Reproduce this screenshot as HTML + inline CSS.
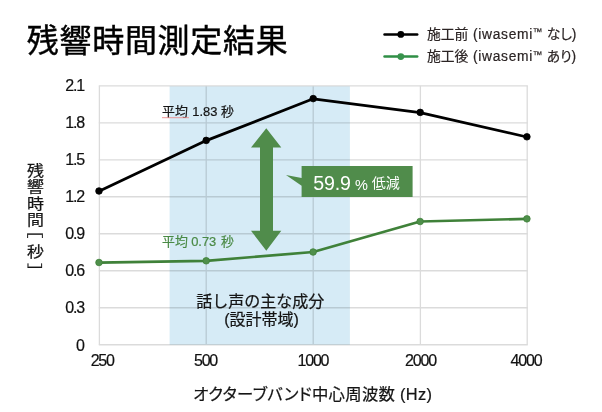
<!DOCTYPE html>
<html lang="ja">
<head>
<meta charset="utf-8">
<title>残響時間測定結果</title>
<style>
html,body{margin:0;padding:0;background:#fff;}
body{width:602px;height:412px;overflow:hidden;position:relative;font-family:"Liberation Sans","Noto Sans CJK JP",sans-serif;color:#1a1a1a;}
svg{position:absolute;left:0;top:0;display:block;}
text{font-family:"Liberation Sans","Noto Sans CJK JP",sans-serif;font-feature-settings:"palt";}
.title{font-size:32px;fill:#000;stroke:#000;stroke-width:0.45px;letter-spacing:0.7px;}
.ax{font-size:16px;fill:#111;stroke:#111;stroke-width:0.2px;letter-spacing:-1.2px;}
.leg{font-size:13.8px;fill:#2b2424;stroke:#2b2424;stroke-width:0.2px;}
.vt{font-size:17px;fill:#151515;stroke:#151515;stroke-width:0.25px;}
.b{fill:#151515;stroke:#151515;stroke-width:0.22px;}
</style>
</head>
<body>
<svg width="602" height="412" viewBox="0 0 602 412">
  <rect x="0" y="0" width="602" height="412" fill="#ffffff"/>
  <!-- design band -->
  <!-- grid -->
  <g stroke="#dbdbdb" stroke-width="1.3" fill="none">
    <line x1="98.8" y1="85.80" x2="527.8" y2="85.80"/>
    <line x1="98.8" y1="122.79" x2="527.8" y2="122.79"/>
    <line x1="98.8" y1="159.78" x2="527.8" y2="159.78"/>
    <line x1="98.8" y1="196.77" x2="527.8" y2="196.77"/>
    <line x1="98.8" y1="233.76" x2="527.8" y2="233.76"/>
    <line x1="98.8" y1="270.75" x2="527.8" y2="270.75"/>
    <line x1="98.8" y1="307.74" x2="527.8" y2="307.74"/>
    <line x1="98.8" y1="344.73" x2="527.8" y2="344.73"/>
    <line x1="99.4" y1="85.8" x2="99.4" y2="344.73"/>
    <line x1="206.2" y1="85.8" x2="206.2" y2="344.73"/>
    <line x1="313.2" y1="85.8" x2="313.2" y2="344.73"/>
    <line x1="420.4" y1="85.8" x2="420.4" y2="344.73"/>
    <line x1="527.2" y1="85.8" x2="527.2" y2="344.73"/>
  </g>
  <rect x="169.6" y="86.4" width="180.3" height="258.3" fill="#d6ebf6" style="mix-blend-mode:multiply"/>
  <!-- arrow -->
  <polygon fill="#508c4b" points="266.3,128.3 281.3,147.6 273,147.6 273,230.7 281.3,230.7 266.3,250.8 251,230.7 260,230.7 260,147.6 251,147.6"/>
  <!-- series -->
  <polyline fill="none" stroke="#000" stroke-width="2.8" stroke-linejoin="round" points="99.0,191.2 206.2,140.6 313.2,98.8 420.2,112.6 526.9,137.0"/>
  <g fill="#000" stroke="#000" stroke-width="0.8"><circle cx="99.0" cy="191.0" r="3.3"/><circle cx="206.2" cy="140.4" r="3.3"/><circle cx="313.2" cy="98.6" r="3.3"/><circle cx="420.2" cy="112.39999999999999" r="3.3"/><circle cx="526.9" cy="136.8" r="3.3"/></g>
  <polyline fill="none" stroke="#3f8139" stroke-width="2.7" stroke-linejoin="round" points="99.0,262.6 206.2,260.9 313.1,252.0 420.1,221.5 526.9,218.85"/>
  <g fill="#4f8f4b" stroke="#3f8139" stroke-width="0.8"><circle cx="99.0" cy="262.5" r="3.3"/><circle cx="206.2" cy="260.8" r="3.3"/><circle cx="313.1" cy="252.0" r="3.3"/><circle cx="420.1" cy="221.5" r="3.3"/><circle cx="526.9" cy="218.85" r="3.3"/></g>
  <!-- callout -->
  <polygon fill="#508c4b" points="301.6,166 412.6,166 412.6,197 301.6,197 301.6,185.7 286,175 301.6,178"/>
  <text fill="#fff"><tspan x="313.2" y="189.9" font-size="19.6" letter-spacing="-0.15">59.9</tspan><tspan x="355" y="189.9" font-size="14.5">%</tspan><tspan x="371.8" y="188.4" font-size="14">低減</tspan></text>
  <!-- title -->
  <text class="title" x="26.8" y="52.2">残響時間測定結果</text>
  <!-- legend -->
  <line x1="384.5" y1="34.4" x2="417.2" y2="34.4" stroke="#000" stroke-width="2.5" stroke-linecap="round"/>
  <circle cx="400.8" cy="34.4" r="3.4" fill="#000"/>
  <line x1="384.5" y1="56.6" x2="417.2" y2="56.6" stroke="#2f8f45" stroke-width="2.5" stroke-linecap="round"/>
  <circle cx="400.8" cy="56.6" r="3.4" fill="#38934d"/>
  <text class="leg" y="38.6"><tspan x="427">施工前</tspan><tspan x="473" letter-spacing="0.7">(iwasemi</tspan><tspan x="532.7" dy="-3.2" font-size="9.5">™</tspan><tspan x="546.8" dy="3.2" letter-spacing="-0.1">なし)</tspan></text>
  <text class="leg" y="61.2"><tspan x="427">施工後</tspan><tspan x="473" letter-spacing="0.7">(iwasemi</tspan><tspan x="532.7" dy="-3.2" font-size="9.5">™</tspan><tspan x="546.8" dy="3.2" letter-spacing="-0.1">あり)</tspan></text>
  <!-- y labels -->
  <g class="ax" text-anchor="end">
    <text x="83.9" y="91.2">2.1</text>
    <text x="83.9" y="128.2">1.8</text>
    <text x="83.9" y="165.2">1.5</text>
    <text x="83.9" y="202.2">1.2</text>
    <text x="83.9" y="239.2">0.9</text>
    <text x="83.9" y="276.1">0.6</text>
    <text x="83.9" y="313.1">0.3</text>
    <text x="83.6" y="350.6">0</text>
  </g>
  <g class="ax" text-anchor="middle">
    <text x="102.2" y="366.2">250</text>
    <text x="205.5" y="366.2">500</text>
    <text x="312.9" y="366.2">1000</text>
    <text x="420.5" y="366.2">2000</text>
    <text x="526" y="366.2">4000</text>
  </g>
  <text x="193.2" y="399.7" font-size="16.4" class="b" textLength="201.8" lengthAdjust="spacing">オクターブバンド中心周波数</text>
  <text x="400" y="399.7" font-size="16.4" class="b" textLength="32" lengthAdjust="spacing">(Hz)</text>
  <!-- annotations -->
  <text y="116.3" font-size="12.9" class="b"><tspan x="162">平均</tspan><tspan x="192.3">1.83</tspan><tspan x="221">秒</tspan></text>
  <line x1="162" y1="117.7" x2="189" y2="117.7" stroke="#ec8d8d" stroke-width="0.9"/>
  <text y="245.6" font-size="12.9" fill="#4a8a45" stroke="#4a8a45" stroke-width="0.2"><tspan x="162">平均</tspan><tspan x="191.2">0.73</tspan><tspan x="221">秒</tspan></text>
  <text x="260.2" y="306.8" font-size="16" class="b" text-anchor="middle" style="font-feature-settings:normal">話し声の主な成分</text>
  <text x="261.5" y="325.3" font-size="16" class="b" text-anchor="middle">(設計帯域)</text>
  <!-- vertical axis title -->
  <g class="vt" text-anchor="middle">
    <text transform="translate(35.4,175.7) scale(1,0.88)">残</text>
    <text transform="translate(35.4,191.8) scale(1,0.88)">響</text>
    <text transform="translate(35.4,209.1) scale(1,0.88)">時</text>
    <text transform="translate(35.4,225.3) scale(1,0.88)">間</text>
    <text transform="translate(35.4,256.8) scale(1,0.88)">秒</text>
    <text transform="translate(29,230.1) rotate(90) scale(1,0.91)" font-size="17" style="font-feature-settings:normal">［</text>
    <text transform="translate(29,271.4) rotate(90) scale(1,0.91)" font-size="17" style="font-feature-settings:normal">］</text>
  </g>
</svg>
</body>
</html>
